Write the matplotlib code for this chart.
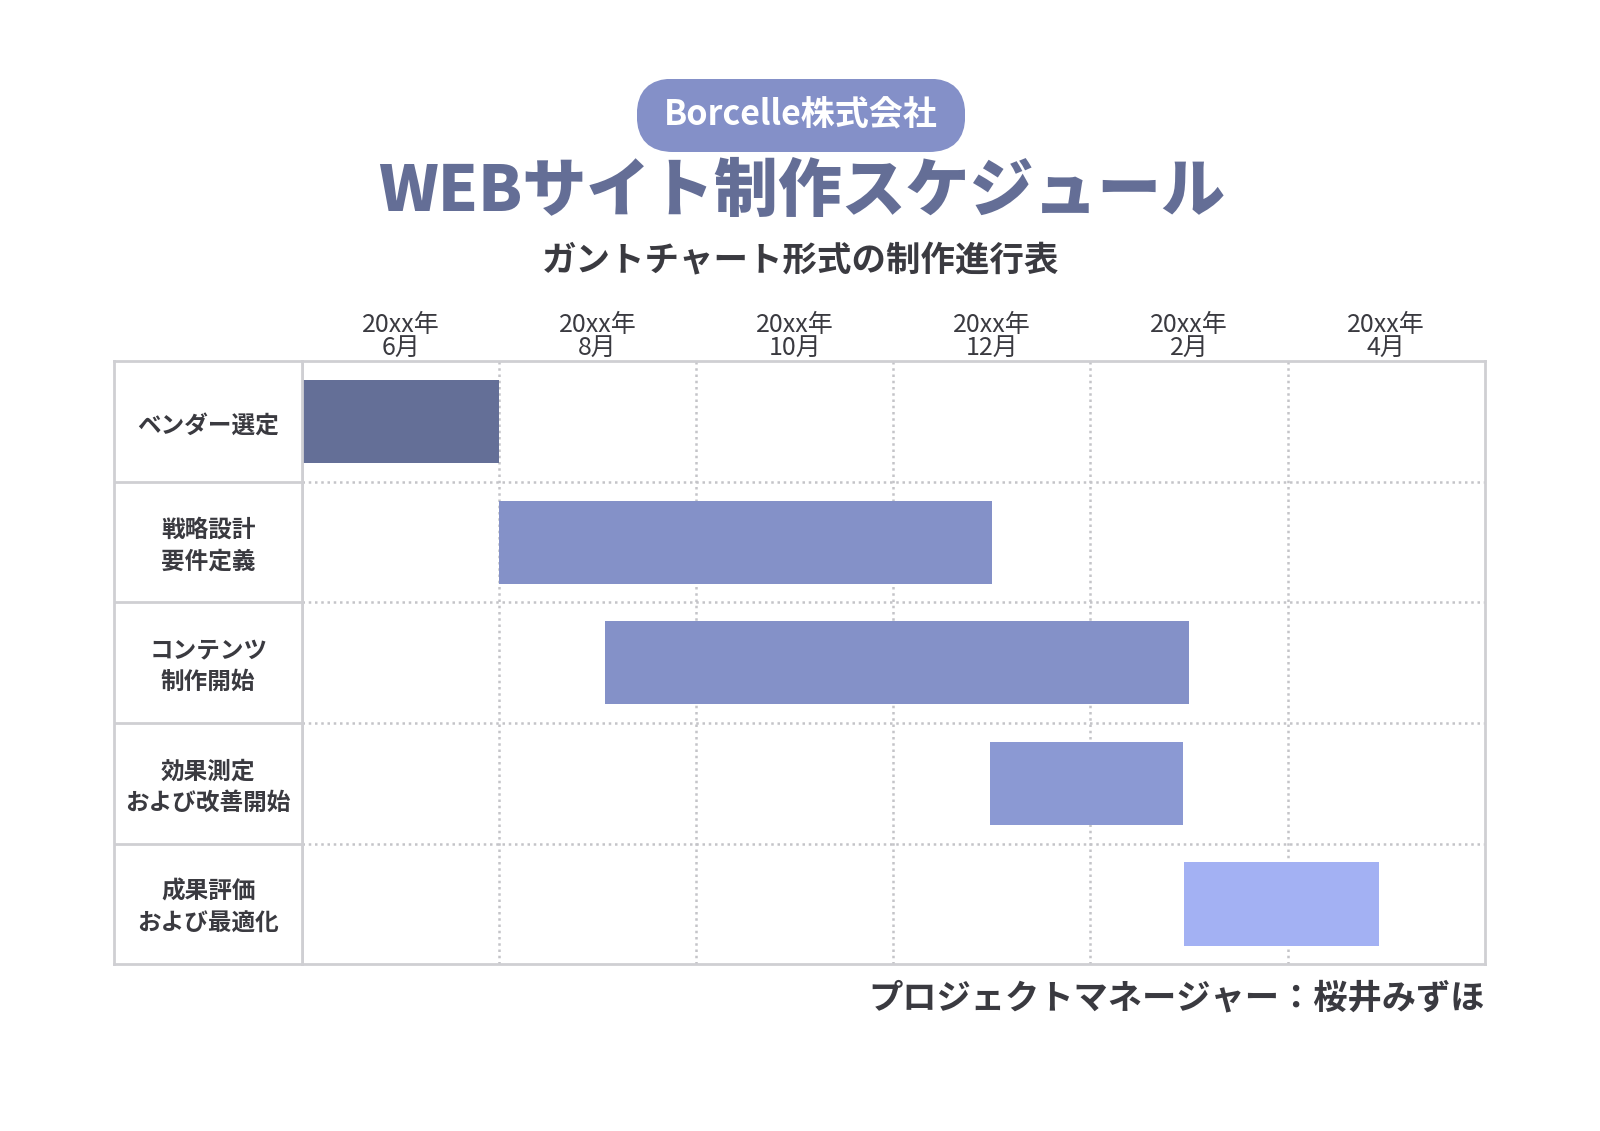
import matplotlib.pyplot as plt
from matplotlib.patches import FancyBboxPatch

plt.rcParams['font.family'] = ['Noto Sans CJK JP', 'DejaVu Sans']

# data
tasks = ["ベンダー選定", "戦略設計\n要件定義", "コンテンツ\n制作開始",
         "効果測定\nおよび改善開始", "成果評価\nおよび最適化"]
start = [0.0, 2.0, 3.07, 6.98, 8.95]
finish = [2.0, 7.0, 9.0, 8.94, 10.93]
bar_colors = ["#646f97", "#8491c8", "#8491c8", "#8b99d3", "#a3b1f3"]
tick_pos = [1, 3, 5, 7, 9, 11]
tick_labels = ["20xx年\n6月", "20xx年\n8月", "20xx年\n10月",
               "20xx年\n12月", "20xx年\n2月", "20xx年\n4月"]
n_months = 12

# layout measured on a 1568 px wide view of the page
W, H = 1568, 1131 * 1568 / 1600
fig = plt.figure(figsize=(16, 11.31), dpi=100)
fig.patch.set_facecolor("white")

grid_col = "#c4c4c8"
frame_col = "#cfcfd3"
dark = "#3a3a40"
title_col = "#646e96"

def fx(px):
    return px / W

def fy(py):
    return 1 - py / H

left, right, top, bottom = 296, 1455, 354, 945
lab_left = 112

# main gantt axes
ax = fig.add_axes([fx(left), fy(bottom), fx(right) - fx(left), fy(top) - fy(bottom)])
n = len(tasks)
ys = [i + 0.5 for i in range(n)]
widths = [f - s for s, f in zip(start, finish)]
ax.barh(ys, widths, left=start, height=0.69, color=bar_colors, zorder=3)
ax.set_xlim(0, n_months)
ax.set_ylim(n, 0)
ax.xaxis.tick_top()
ax.set_xticks(tick_pos)
ax.set_xticklabels(tick_labels, fontsize=18, color=dark, linespacing=0.86)
ax.set_xticks(range(1, n_months), minor=True)
ax.set_yticks(range(1, n))
ax.set_yticklabels([])
ax.tick_params(axis='both', which='both', length=0, pad=0)
ax.grid(True, which='minor', axis='x', color=grid_col, linestyle=(0, (1, 1.5)), linewidth=1.8, zorder=1)
ax.grid(True, which='major', axis='y', color=grid_col, linestyle=(0, (1, 1.5)), linewidth=1.8, zorder=1)
for sp in ax.spines.values():
    sp.set_color(frame_col)
    sp.set_linewidth(2)

# label column
lax = fig.add_axes([fx(lab_left), fy(bottom), fx(left) - fx(lab_left), fy(top) - fy(bottom)])
lax.set_xlim(0, 1)
lax.set_ylim(n, 0)
lax.set_xticks([])
lax.set_yticks([])
for i in range(1, n):
    lax.axhline(i, color=frame_col, linewidth=2)
for y, t in zip(ys, tasks):
    lax.text(0.5, y + 0.03, t, ha='center', va='center', fontsize=17, fontweight='bold',
             color=dark, linespacing=1.4)
for sp in lax.spines.values():
    sp.set_color(frame_col)
    sp.set_linewidth(2)

# header pill
pw, ph = 946 - 624, 149 - 77
pill_ax = fig.add_axes([fx(624), fy(149), fx(946) - fx(624), fy(77) - fy(149)])
pill_ax.set_xlim(0, pw)
pill_ax.set_ylim(0, ph)
pill_ax.axis('off')
pill_ax.add_patch(FancyBboxPatch((0, 0), pw, ph,
                                 boxstyle="round,pad=0,rounding_size=36",
                                 facecolor="#8490c8", edgecolor="none"))
fig.text(fx(785), fy(113), "Borcelle株式会社", ha='center', va='center',
         fontsize=24.5, fontweight='bold', color='white')

fig.text(fx(786), fy(188), "WEBサイト制作スケジュール", ha='center', va='center',
         fontsize=46, fontweight='heavy', color=title_col)
fig.text(fx(785), fy(256), "ガントチャート形式の制作進行表", ha='center', va='center',
         fontsize=24.8, fontweight='bold', color=dark)
fig.text(fx(1455), fy(978), "プロジェクトマネージャー：桜井みずほ", ha='right', va='center',
         fontsize=24.7, fontweight='bold', color=dark)

fig.savefig("out.png", dpi=100, facecolor="white")
